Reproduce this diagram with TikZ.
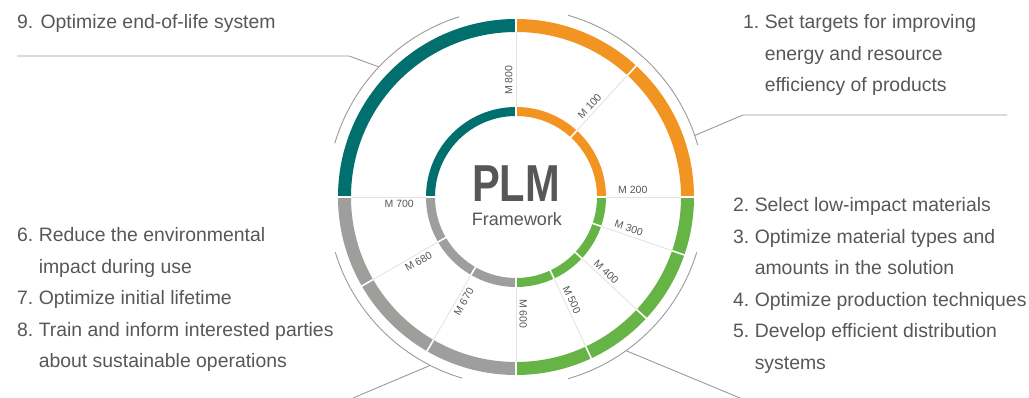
\documentclass[tikz,border=0pt]{standalone}
\usepackage{fontspec}
\setmainfont{Liberation Sans}
\usepackage{tikz}

\definecolor{plmorange}{HTML}{F29422}
\definecolor{plmteal}{HTML}{006F6D}
\definecolor{plmgreen}{HTML}{66B446}
\definecolor{plmgray}{HTML}{9E9E9D}
\definecolor{plmtext}{HTML}{575757}
\definecolor{plmline}{HTML}{9A9A9A}
\definecolor{plmspoke}{HTML}{E2E2E2}

\tikzset{
  outerring/.style = {line width=13pt},
  innerring/.style = {line width=9pt},
  ringgap/.style   = {white, line width=1.6pt},
  spoke/.style     = {plmspoke, line width=0.8pt},
  bracket/.style   = {plmline, line width=0.9pt},
  mlabel/.style    = {font=\fontsize{10.5}{12}\selectfont, text=plmtext, inner sep=0pt},
  listtext/.style  = {font=\fontsize{19.4}{31.5}\selectfont, text=plmtext, inner sep=0pt, anchor=base west}
}

\begin{document}
\begin{tikzpicture}[x=1pt, y=1pt]
            \useasboundingbox (0, 0) rectangle (1029, 398);

            \begin{scope}[shift={(516, 201)}]
            % draw outer and inner rings
            \foreach \ang/\col in {0/plmorange, 90/plmteal, 180/plmgray, 270/plmgreen} {
                \draw[outerring, \col] (\ang : 171.5) arc [radius = 171.5, start angle = \ang, delta angle = 90];
                \draw[innerring, \col] (\ang : 85.5) arc [radius = 85.5, start angle = \ang, delta angle = 90];
            }

            % draw gaps and spokes
            \foreach \ang in {90, 47.5, 0, -19, -43, -65, -90, 240, 210, 180} {
                \draw[ringgap] (\ang : 80) -- (\ang : 179);
                \draw[spoke] (\ang : 90) -- (\ang : 165);
            }

            % draw spoke labels
            \foreach \ang/\rot/\num in {90/90/800, 47.5/47.5/100, 0/0/200, -19/-19/300, -43/-43/400,
                                        -65/-65/500, -90/-90/600, 240/60/670, 210/30/680, 180/0/700} {
                \node[mlabel, rotate = \rot] (m\num) at ({\ang + 3.5} : 117) {M \num};
            }

            % draw thin outer arcs
            \draw[bracket] (16 : 189) arc [radius = 189, start angle = 16, end angle = 74];
            \draw[bracket] (107.5 : 189) arc [radius = 189, start angle = 107.5, end angle = 163.5];
            \draw[bracket] (197 : 189) arc [radius = 189, start angle = 197, end angle = 253.5];
            \draw[bracket] (286 : 189) arc [radius = 189, start angle = 286, end angle = 343];

            % leader lines
            \coordinate (leadtr) at (19 : 189);
            \coordinate (leadtl) at (136.5 : 189);
            \coordinate (leadbl) at (243 : 189);
            \coordinate (leadbr) at (305.6 : 189);
            \coordinate (bendtr) at (227, 82);
            \coordinate (endtr)  at (491, 82);
            \coordinate (bendtl) at (-167, 141);
            \coordinate (endtl)  at (-499, 141);
            \coordinate (endbl)  at (-163, -201);
            \coordinate (endbr)  at (224, -201);
            \draw[bracket] (leadtr) -- (bendtr) -- (endtr);
            \draw[bracket] (leadtl) -- (bendtl) -- (endtl);
            \draw[bracket] (leadbl) -- (endbl);
            \draw[bracket] (leadbr) -- (endbr);
            \end{scope}

            % centre title
            \node[font=\bfseries\fontsize{52}{52}\selectfont, text=plmtext, inner sep=0pt, anchor=base]
                (plm) at (516, 196) {\scalebox{0.8}[1]{PLM}};
            \node[font=\fontsize{18}{18}\selectfont, text=plmtext, inner sep=0pt, anchor=base]
                (framework) at (517, 172) {Framework};

            % step texts
            \node[listtext] (step9) at (17, 369) {9. Optimize end-of-life system};
            \node[listtext] (step1) at (743, 369) {\begin{tabular}[t]{@{}l@{\ }l@{}}
                1. & Set targets for improving\\
                   & energy and resource\\
                   & efficiency of products
            \end{tabular}};
            \node[listtext] (step2) at (733, 186) {\begin{tabular}[t]{@{}l@{\ }l@{}}
                2. & Select low-impact materials\\
                3. & Optimize material types and\\
                   & amounts in the solution\\
                4. & Optimize production techniques\\
                5. & Develop efficient distribution\\
                   & systems
            \end{tabular}};
            \node[listtext] (step6) at (17, 156) {\begin{tabular}[t]{@{}l@{\ }l@{}}
                6. & Reduce the environmental\\
                   & impact during use\\
                7. & Optimize initial lifetime\\
                8. & Train and inform interested parties\\
                   & about sustainable operations
            \end{tabular}};
        \end{tikzpicture}
\end{document}
